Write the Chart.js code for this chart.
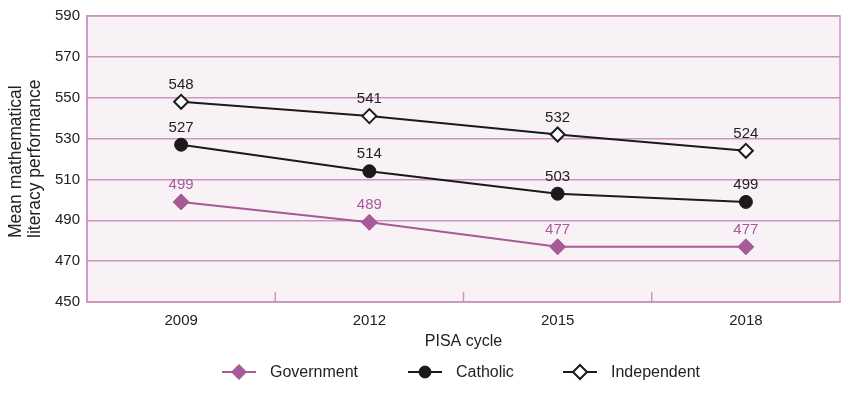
<!DOCTYPE html>
<html><head><meta charset="utf-8">
<script src="https://cdn.jsdelivr.net/npm/chart.js@4/dist/chart.umd.min.js"></script>
<style>html,body{margin:0;padding:0;background:#fff}#wrap{width:855px;height:396px}</style>
</head><body><div id="wrap"><canvas id="c" width="855" height="396"></canvas></div>
<script>
const categories = ['2009', '2012', '2015', '2018'];
const government = [499, 489, 477, 477];
const catholic = [527, 514, 503, 499];
const independent = [548, 541, 532, 524];
const seriesNames = ['Government', 'Catholic', 'Independent'];
const yMin = 450, yMax = 590, yStep = 20;
const xTitle = 'PISA cycle';
const yTitle = ['Mean mathematical', 'literacy performance'];

const PURPLE = '#a85a96';
const GRID = '#cc95c1';
const FONT = '"Liberation Sans", Arial, sans-serif';

const extras = {
  id: 'extras',
  beforeDraw(chart) {
    const {ctx, chartArea: a} = chart;
    ctx.save();
    ctx.fillStyle = '#f8f2f7';
    ctx.fillRect(a.left, a.top, a.right - a.left, a.bottom - a.top);
    ctx.restore();
  },
  afterDatasetsDraw(chart) {
    const {ctx, chartArea: a} = chart;
    const xs = chart.scales.x;
    ctx.save();
    ctx.strokeStyle = GRID; ctx.lineWidth = 1.5;
    ctx.strokeRect(a.left, a.top, a.right - a.left, a.bottom - a.top);
    for (let i = 1; i < categories.length; i++) {
      const x = (xs.getPixelForValue(i - 1) + xs.getPixelForValue(i)) / 2;
      ctx.beginPath(); ctx.moveTo(x, a.bottom); ctx.lineTo(x, a.bottom - 10); ctx.stroke();
    }
    ctx.font = '15px ' + FONT;
    ctx.textAlign = 'center'; ctx.textBaseline = 'middle';
    chart.data.datasets.forEach((ds, di) => {
      const meta = chart.getDatasetMeta(di);
      ctx.fillStyle = ds.labelColor;
      meta.data.forEach((pt, i) => {
        ctx.fillText(String(ds.data[i]), pt.x, pt.y - 17);
      });
    });
    ctx.font = '16px ' + FONT;
    ctx.fillStyle = '#222';
    ctx.fillText(xTitle, (a.left + a.right) / 2, 342);
    ctx.save();
    ctx.font = '17.5px ' + FONT;
    ctx.translate(16, 238);
    ctx.rotate(-Math.PI / 2);
    ctx.textAlign = 'left';
    ctx.fillText(yTitle[0], 0, 0);
    ctx.fillText(yTitle[1], 0, 19);
    ctx.restore();
    const legX = [222, 408, 563];
    const ly = 372;
    chart.data.datasets.forEach((ds, di) => {
      const x0 = legX[di];
      ctx.strokeStyle = ds.borderColor; ctx.lineWidth = 2;
      ctx.beginPath(); ctx.moveTo(x0, ly); ctx.lineTo(x0 + 34, ly); ctx.stroke();
      const cx = x0 + 17;
      ctx.fillStyle = ds.pointBackgroundColor;
      ctx.strokeStyle = ds.pointBorderColor;
      ctx.lineWidth = ds.pointBorderWidth;
      ctx.beginPath();
      if (ds.pointStyle === 'circle') {
        ctx.arc(cx, ly, 6, 0, Math.PI * 2);
      } else {
        const r = di === 0 ? 7.5 : 7;
        ctx.moveTo(cx, ly - r); ctx.lineTo(cx + r, ly); ctx.lineTo(cx, ly + r); ctx.lineTo(cx - r, ly); ctx.closePath();
      }
      ctx.fill(); ctx.stroke();
      ctx.fillStyle = '#222'; ctx.textAlign = 'left';
      ctx.fillText(ds.label, x0 + 48, ly + 1);
    });
    ctx.restore();
  }
};

new Chart(document.getElementById('c'), {
  type: 'line',
  data: {
    labels: categories,
    datasets: [
      { label: seriesNames[0], data: government, borderColor: PURPLE, borderWidth: 2,
        pointStyle: 'rectRot', pointRadius: 8, pointBackgroundColor: PURPLE, pointBorderColor: PURPLE,
        pointBorderWidth: 1, labelColor: PURPLE },
      { label: seriesNames[1], data: catholic, borderColor: '#1a1a1a', borderWidth: 2,
        pointStyle: 'circle', pointRadius: 6.5, pointBackgroundColor: '#1a1a1a', pointBorderColor: '#1a1a1a',
        pointBorderWidth: 1, labelColor: '#222' },
      { label: seriesNames[2], data: independent, borderColor: '#1a1a1a', borderWidth: 2,
        pointStyle: 'rectRot', pointRadius: 7, pointBackgroundColor: '#ffffff', pointBorderColor: '#1a1a1a',
        pointBorderWidth: 2, labelColor: '#222' }
    ]
  },
  options: {
    responsive: false, animation: false, devicePixelRatio: 1,
    layout: { padding: { top: 15, right: 15, left: 0, bottom: 0 } },
    plugins: { legend: { display: false }, tooltip: { enabled: false } },
    elements: { line: { tension: 0 } },
    scales: {
      x: {
        type: 'category', offset: true,
        grid: { display: false, drawTicks: false },
        border: { display: true, color: GRID, width: 1.5 },
        ticks: { padding: 10, color: '#222', font: { family: FONT, size: 15 } },
        afterFit(s) { s.height = 94; }
      },
      y: {
        min: yMin, max: yMax,
        grid: { color: GRID, lineWidth: 1.5, drawTicks: false },
        border: { display: true, color: GRID, width: 1.5 },
        ticks: { stepSize: yStep, padding: 7, color: '#222', font: { family: FONT, size: 15 } },
        afterFit(s) { s.width = 87; }
      }
    }
  },
  plugins: [extras]
});
</script></body></html>
